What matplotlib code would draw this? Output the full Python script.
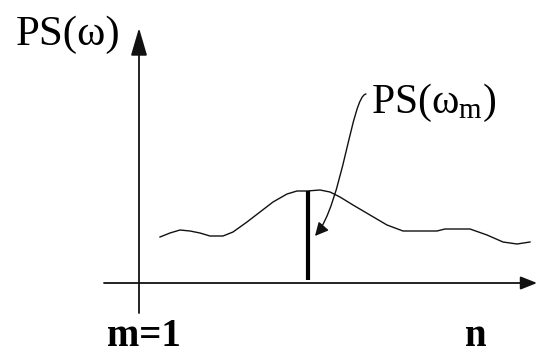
import numpy as np
import matplotlib
matplotlib.use('Agg')
import matplotlib.pyplot as plt
from matplotlib.patches import FancyArrowPatch
from matplotlib.path import Path

# power spectrum sketch, in pixel-like units (y grows downward)
curve_x = [160, 170, 180, 190, 200, 210, 223, 233, 247, 260, 273, 287, 297, 307, 320,
           330, 340, 353, 370, 387, 403, 420, 437, 445, 470, 487, 503, 517, 530]
curve_y = [237, 233, 230, 231, 233, 236, 236, 232, 222, 212, 202, 194, 191, 191, 190,
           192, 197, 205, 215, 225, 231, 231, 231, 229, 229, 235, 242, 244, 242]

peak_x = 308
peak_top = 191
axis_y = 283
axis_x = 139

y_label = 'PS(ω)'
peak_label = r'$\mathrm{PS(ω_m)}$'
left_label = 'm=1'
right_label = 'n'

plt.rcParams['font.family'] = ['Liberation Serif', 'DejaVu Serif']
plt.rcParams['mathtext.fontset'] = 'custom'
plt.rcParams['mathtext.rm'] = 'Liberation Serif'

fig = plt.figure(figsize=(5.37, 3.54), dpi=100)
ax = fig.add_axes([0, 0, 1, 1])
ax.set_xlim(0, 537)
ax.set_ylim(354, 0)
ax.axis('off')

ink = '#111111'

# axes with arrow heads
ax.add_patch(FancyArrowPatch((104, axis_y), (537, axis_y),
                             arrowstyle='-|>,head_length=1.0,head_width=0.4',
                             mutation_scale=10, lw=1.3, color=ink, shrinkA=0, shrinkB=0))
ax.add_patch(FancyArrowPatch((axis_x, 313), (axis_x, 28),
                             arrowstyle='-|>,head_length=1.7,head_width=0.5',
                             mutation_scale=10, lw=1.3, color=ink, shrinkA=0, shrinkB=0))

# spectrum and the peak line
ax.plot(curve_x, curve_y, color=ink, lw=1.0)
ax.plot([peak_x, peak_x], [peak_top, 280], color='black', lw=3.0, solid_capstyle='butt')

# curved leader from the label to the peak line
leader = Path([(366, 94), (352, 96), (342, 205), (315, 236)],
              [Path.MOVETO, Path.CURVE4, Path.CURVE4, Path.CURVE4])
ax.add_patch(FancyArrowPatch(path=leader, arrowstyle='-|>,head_length=0.5,head_width=0.25',
                             mutation_scale=16, lw=1.0, color=ink))

ax.text(16, 45, y_label, fontsize=31, color='black', ha='left', va='baseline')
ax.text(371, 113, peak_label, fontsize=30, color='black', ha='left', va='baseline')
ax.text(107, 346, left_label, fontsize=28, fontweight='bold', color='black', ha='left', va='baseline')
ax.text(465, 346, right_label, fontsize=28, fontweight='bold', color='black', ha='left', va='baseline')

fig.savefig('out.png', dpi=100)
